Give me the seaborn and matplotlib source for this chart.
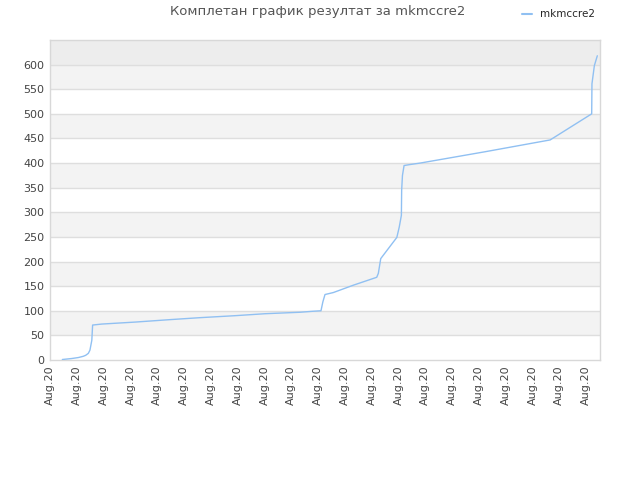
import numpy as np
import pandas as pd
import matplotlib
matplotlib.use("Agg")
import matplotlib.pyplot as plt
import seaborn as sns

# Подаци (x у јединицама између ознака)
x_vals = [0.46, 0.81, 1.06, 1.24, 1.33, 1.43, 1.49, 1.56, 1.59, 1.93, 3.17, 4.48,
          5.60, 6.90, 8.02, 9.33, 9.81, 10.11, 10.18, 10.26, 10.57, 11.32, 12.19,
          12.25, 12.34, 12.94, 13.03, 13.11, 13.12, 13.15, 13.21, 13.43, 13.81,
          16.23, 18.66, 20.21, 20.22, 20.31, 20.42]
y_vals = [1, 3, 5, 7.5, 9.5, 13.5, 20, 40, 71, 73, 77, 82,
          86, 90, 94, 97, 99, 100, 118, 133, 137, 152, 168,
          176, 206, 249, 270, 294, 345, 375, 395, 397, 400,
          423, 447, 500, 561, 598, 618]
tick_labels = ["Aug.20"] * 21
series_name = "mkmccre2"
title = "Комплетан график резултат за mkmccre2"

df = pd.DataFrame({"x": x_vals, "y": y_vals, "player": series_name})

sns.set_style("white")
plt.rcParams["font.family"] = ["DejaVu Sans"]

fig = plt.figure(figsize=(6.4, 4.8), dpi=100)
ax = fig.add_axes([50 / 640, 1 - 360 / 480, 550 / 640, 320 / 480])

# наизменичне траке
ax.axhspan(600, 650, color="#ededed", zorder=0, lw=0)
for lo in range(50, 600, 100):
    ax.axhspan(lo, lo + 50, color="#f3f3f3", zorder=0, lw=0)
for v in range(50, 650, 50):
    ax.axhline(v, color="#dedede", lw=1, zorder=1)

sns.lineplot(data=df, x="x", y="y", hue="player", palette=["#90c0f2"],
             estimator=None, sort=False, lw=1, ax=ax, legend=False, zorder=3)

ax.set_xlim(0, 20.52)
ax.set_ylim(0, 650)
ax.set_yticks(range(0, 650, 50))
ax.set_xticks(range(len(tick_labels)))
ax.set_xticklabels(tick_labels, rotation=90)
ax.tick_params(axis="both", labelsize=8, colors="#444444", length=0, pad=4)
ax.set_xlabel("")
ax.set_ylabel("")
for s in ax.spines.values():
    s.set_color("#d8d8d8")
    s.set_linewidth(1)

fig.text(0.497, 0.975, title, ha="center", va="center", fontsize=9.5, color="#555555")
handle = plt.Line2D([], [], color="#90c0f2", lw=1.5)
fig.legend([handle], [series_name], loc="upper right", bbox_to_anchor=(0.945, 1.0),
           frameon=False, fontsize=7.5, handlelength=1.0, handletextpad=0.8)

fig.savefig("out.png", dpi=100)
